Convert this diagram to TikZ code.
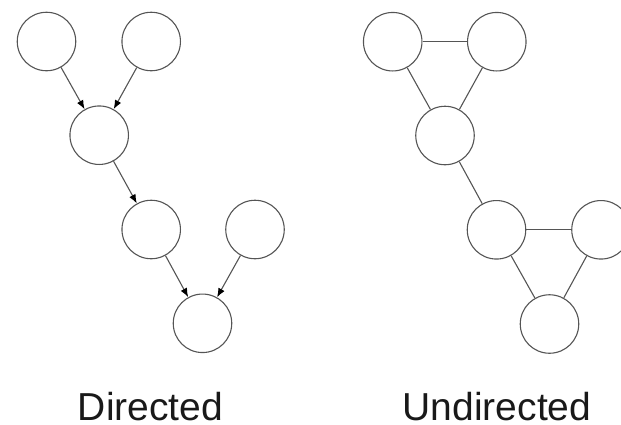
\documentclass[tikz,border=0pt]{standalone}
\usepackage{fontspec}
\setmainfont{Liberation Sans}
\usetikzlibrary{arrows.meta}
\definecolor{linegray}{RGB}{85,85,85}
\tikzset{
  vertex/.style={circle, draw=linegray, line width=1.1pt, minimum size=58.5pt, inner sep=0pt, fill=white},
  arc/.style={draw=linegray, line width=1.1pt, -{Latex[length=9pt,width=7pt,color=black]}},
  link/.style={draw=linegray, line width=1.1pt},
  caption/.style={font=\fontsize{39}{40}\selectfont, text=black!90, anchor=base, inner sep=0pt}
}
\begin{document}
\begin{tikzpicture}[x=1pt,y=-1pt]
\useasboundingbox (0,0) rectangle (621,424);
\begin{scope}
\clip (0,0) rectangle (621,424);
% Directed
\node[vertex] (a) at (46.5,41.5) {};
\node[vertex] (b) at (151.2,41.5) {};
\node[vertex] (c) at (99.2,135.2) {};
\node[vertex] (d) at (151.2,229.5) {};
\node[vertex] (e) at (255,229.5) {};
\node[vertex] (f) at (202.5,323.3) {};
\draw[arc] (a) -- (c);
\draw[arc] (b) -- (c);
\draw[arc] (c) -- (d);
\draw[arc] (d) -- (f);
\draw[arc] (e) -- (f);
% Undirected
\node[vertex] (g) at (392.7,41.7) {};
\node[vertex] (h) at (496.8,41.7) {};
\node[vertex] (i) at (445,135.5) {};
\node[vertex] (j) at (496.5,229.8) {};
\node[vertex] (k) at (601,229.8) {};
\node[vertex] (l) at (549.5,324) {};
\draw[link] (g) -- (h);
\draw[link] (g) -- (i);
\draw[link] (h) -- (i);
\draw[link] (i) -- (j);
\draw[link] (j) -- (k);
\draw[link] (j) -- (l);
\draw[link] (k) -- (l);
\end{scope}
\node[caption] (dl) at (150.5,420.5) {Directed};
\node[caption] (ul) at (497,420.5) {Undirected};
\end{tikzpicture}
\end{document}
